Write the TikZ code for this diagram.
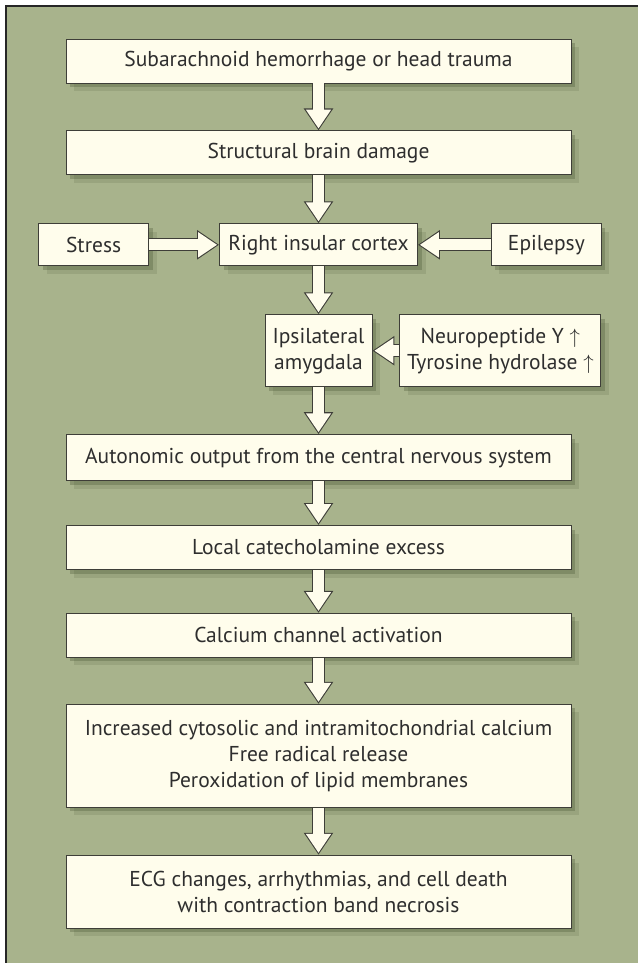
\documentclass[tikz,border=0pt]{standalone}
\usepackage{fontspec}
\setmainfont{PT Sans}
\usepackage{tikz}
\usetikzlibrary{arrows.meta,positioning,shadows}

\definecolor{bggreen}{RGB}{168,179,140}
\definecolor{boxfill}{RGB}{255,253,236}
\definecolor{boxline}{RGB}{62,62,56}
\definecolor{shade}{RGB}{70,82,48}

\begin{document}
\begin{tikzpicture}[x=1pt,y=1pt,
                main node/.style={rectangle,draw=boxline,line width=0.9pt,fill=boxfill,text=black!82,
                  font=\fontsize{21.5}{26}\selectfont,align=center,minimum height=44pt,inner sep=4pt,
                  drop shadow={shadow xshift=8pt,shadow yshift=-8pt,opacity=0.15,fill=shade},
                  drop shadow={shadow xshift=4pt,shadow yshift=-4pt,opacity=0.3,fill=shade}},
                wide node/.style={main node,minimum width=505pt},
                flow/.style={draw=boxfill,line width=11pt,shorten >=1.9pt,-{Triangle[length=19pt,width=24pt]},
                  preaction={draw=boxline,line width=13pt,shorten >=0pt,-{Triangle[length=22pt,width=28pt]}}}]
            \useasboundingbox (0,0) rectangle (637,-963);
            \fill[white] (-3,3) rectangle (640,-966);
            \fill[black!85] (5,-5) rectangle (640,-966);
            \fill[bggreen] (7,-7) rectangle (640,-966);

            \node[wide node] (1) at (318.5,-61) {Subarachnoid hemorrhage or head trauma};
            \node[wide node] (2) [below=47pt of 1] {Structural brain damage};
            \node[main node,minimum width=198pt,minimum height=42pt] (3) [below=48pt of 2] {Right insular cortex};
            \node[main node,minimum width=110pt,minimum height=42pt] (4) [left=70pt of 3] {Stress};
            \node[main node,minimum width=110pt,minimum height=42pt] (5) [right=73pt of 3] {Epilepsy};
            \node[main node,minimum width=107pt,minimum height=72pt] (6) [below=48pt of 3] {Ipsilateral\\amygdala};
            \node[main node,minimum width=201pt,minimum height=72pt] (7) [right=27pt of 6] {Neuropeptide Y $\uparrow$\\Tyrosine hydrolase $\uparrow$};
            \node[wide node,minimum height=46pt] (8) [below=47pt of 6] {Autonomic output from the central nervous system};
            \node[wide node] (9) [below=44pt of 8] {Local catecholamine excess};
            \node[wide node] (10) [below=43pt of 9] {Calcium channel activation};
            \node[wide node,minimum height=103pt] (11) [below=46pt of 10] {Increased cytosolic and intramitochondrial calcium\\Free radical release\\Peroxidation of lipid membranes};
            \node[wide node,minimum height=73pt] (12) [below=47pt of 11] {ECG changes, arrhythmias, and cell death\\with contraction band necrosis};

            \path
                (1) edge[flow] (2)
                (2) edge[flow] (3)
                (4) edge[flow] (3)
                (5) edge[flow] (3)
                (3) edge[flow] (6)
                (7) edge[flow] (6)
                (6) edge[flow] (8)
                (8) edge[flow] (9)
                (9) edge[flow] (10)
                (10) edge[flow] (11)
                (11) edge[flow] (12);
        \end{tikzpicture}
\end{document}
